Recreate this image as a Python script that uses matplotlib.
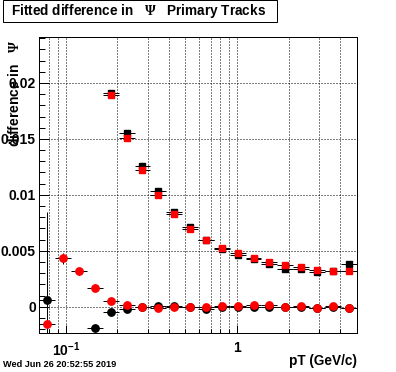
import numpy as np
import matplotlib
matplotlib.use("Agg")
import matplotlib.pyplot as plt
from matplotlib.patches import Rectangle
from matplotlib.ticker import FixedLocator, NullFormatter, MultipleLocator

plt.rcParams['font.family'] = ['Liberation Sans', 'DejaVu Sans']
plt.rcParams['font.weight'] = 'bold'
plt.rcParams['mathtext.fontset'] = 'custom'
plt.rcParams['mathtext.rm'] = 'Liberation Serif'
plt.rcParams['mathtext.it'] = 'Liberation Serif:italic'
plt.rcParams['mathtext.bf'] = 'Liberation Sans:bold'

# pT bin edges (GeV/c)
pt_edges = [0.07, 0.0867, 0.1073, 0.1328, 0.1644, 0.2035, 0.2519, 0.3118, 0.386,
            0.4778, 0.5915, 0.7322, 0.9064, 1.122, 1.389, 1.719, 2.128, 2.635,
            3.262, 4.038, 5.0]

# upper curve (squares)
sq_black = [np.nan, np.nan, np.nan, np.nan, 0.01914, 0.01557, 0.01262, 0.01033,
            0.0085, 0.0071, 0.00596, 0.00513, 0.00465, 0.00424, 0.00380, 0.0034,
            0.00334, 0.00313, 0.00319, 0.00384]
sq_red = [np.nan, np.nan, np.nan, np.nan, 0.01888, 0.01509, 0.01223, 0.0100,
          0.00831, 0.00697, 0.00596, 0.00525, 0.00477, 0.00435, 0.00398, 0.00373,
          0.00355, 0.00328, 0.00319, 0.00319]
sq_err = [0, 0, 0, 0, 0.0001, 0.0001, 0.0001, 0.0001, 0.0001, 0.0001, 0.0001,
          0.0001, 0.0001, 0.0001, 0.0001, 0.0001, 0.0001, 0.0001, 0.0001, 0.0001]

# lower curve (circles)
ci_black = [0.00057, np.nan, np.nan, -0.00193, -0.0005, -0.00018, -0.00003, 0.00006,
            0.00004, -0.00005, -0.00018, -0.00005, -0.00005, -0.00005, -0.00005, 0.0,
            -0.00005, -0.00015, -0.00005, -0.00015]
ci_black_err = [0.0079, 0, 0, 0.0003, 0.0002, 0.0001, 0.0001, 0.0001, 0.0001, 0.0001,
                0.0001, 0.0001, 0.0001, 0.0001, 0.0001, 0.0001, 0.0001, 0.0001,
                0.0001, 0.0001]
ci_red = [-0.00157, 0.00433, 0.00316, 0.00164, 0.00051, 0.00015, -0.00003, -0.00015,
          -0.00005, -0.00005, -0.00005, 0.00006, 0.00006, 0.00015, 0.00015, 0.0,
          0.00003, -0.00009, 0.00006, -0.00009]
ci_red_err = [0.0005, 0.0005, 0.0003, 0.0002, 0.0001, 0.0001, 0.0001, 0.0001, 0.0001,
              0.0001, 0.0001, 0.0001, 0.0001, 0.0001, 0.0001, 0.0001, 0.0001, 0.0001,
              0.0001, 0.0001]

edges = np.array(pt_edges)
lo, hi = edges[:-1], edges[1:]
xc = np.sqrt(lo * hi)
xerr = [xc - lo, hi - xc]

W, H = 396, 372
fig = plt.figure(figsize=(W / 100, H / 100), dpi=100)
ax = fig.add_axes([39.3 / W, 1 - 333 / H, 317.4 / W, 295.7 / H])

px = 0.72  # one pixel in points


def draw(y, err, marker, color, ms):
    ax.errorbar(xc, y, xerr=xerr, yerr=err, fmt=marker, color=color, ecolor='black',
                elinewidth=px, capsize=0, markersize=ms, mec=color, mfc=color, zorder=3)


draw(sq_black, sq_err, 's', 'black', 4.6)
draw(sq_red, sq_err, 's', 'red', 4.6)
draw(ci_black, ci_black_err, 'o', 'black', 5.3)
draw(ci_red, ci_red_err, 'o', 'red', 5.3)

ax.set_xscale('log')
ax.set_xlim(0.07, 5.0)
ax.set_ylim(-0.00235, 0.02408)

ax.xaxis.set_major_locator(FixedLocator([0.1, 1.0]))
ax.set_xticklabels([r'$\mathbf{10^{-1}}$', '1'])
ax.xaxis.set_minor_locator(FixedLocator([0.08, 0.09, 0.2, 0.3, 0.4, 0.5, 0.6, 0.7,
                                         0.8, 0.9, 2, 3, 4, 5]))
ax.xaxis.set_minor_formatter(NullFormatter())
ax.set_yticks([0, 0.005, 0.01, 0.015, 0.02])
ax.set_yticklabels(['0', '0.005', '0.01', '0.015', '0.02'])
ax.yaxis.set_minor_locator(MultipleLocator(0.001))

ax.tick_params(axis='both', which='both', direction='in', width=px, top=False, right=False)
ax.tick_params(axis='y', which='major', length=7.2, pad=2.5, labelsize=10)
ax.tick_params(axis='y', which='minor', length=4)
ax.tick_params(axis='x', which='major', length=5.5, pad=5.5, labelsize=10)
ax.tick_params(axis='x', which='minor', length=3)

ax.grid(True, which='both', axis='x', color='black', linestyle=(0, (1, 2)), linewidth=px)
ax.grid(True, which='major', axis='y', color='black', linestyle=(0, (1, 2)), linewidth=px)
for s in ax.spines.values():
    s.set_linewidth(px)

# title box
fig.patches.append(Rectangle((3.3 / W, 1 - 21.7 / H), 273.4 / W, 21.2 / H,
                             transform=fig.transFigure, facecolor='white',
                             edgecolor='black', linewidth=px))
fig.text(139 / W, 1 - 11.5 / H, r'Fitted difference in   $\Psi$   Primary Tracks',
         ha='center', va='center', fontsize=9.8, fontweight='bold')

fig.text(15 / W, 1 - 40 / H, r'difference in   $\Psi$', rotation=90, ha='center',
         va='top', fontsize=10, fontweight='bold')
fig.text(356.7 / W, 1 - 361 / H, 'pT (GeV/c)', ha='right', va='center',
         fontsize=9.8, fontweight='bold')
fig.text(2.7 / W, 1 - 364.5 / H, 'Wed Jun 26 20:52:55 2019', ha='left', va='center',
         fontsize=6.6, fontweight='bold')

fig.savefig('out.png', dpi=100)
